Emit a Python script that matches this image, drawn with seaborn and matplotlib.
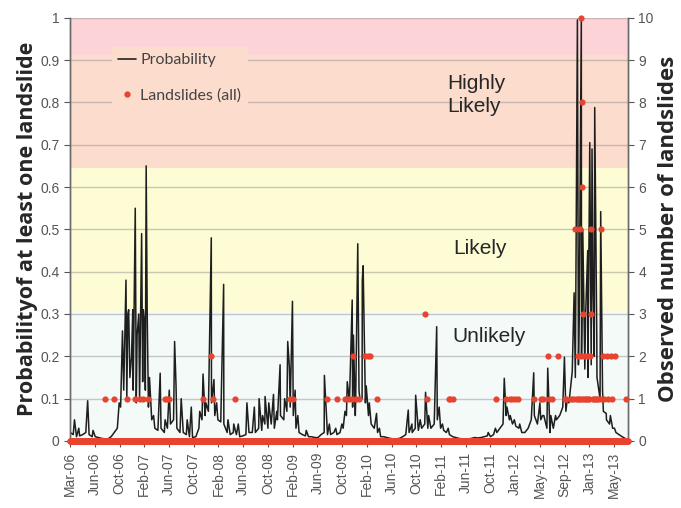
import matplotlib
matplotlib.use("Agg")
import matplotlib.pyplot as plt
import matplotlib.dates as mdates
from matplotlib.lines import Line2D
import numpy as np
import pandas as pd
import seaborn as sns

# ---- data ----
# background level of the daily probability, on the 1st and 16th of each month
base_2006 = [0.02, 0.015, 0.01, 0.012, 0.015, 0.02, 0.015, 0.01, 0.01, 0.008,
             0.006, 0.005, 0.005, 0.01, 0.02, 0.03, 0.08, 0.12, 0.10, 0.15]  # Mar-Dec
base_2007 = [0.12, 0.09, 0.10, 0.14, 0.12, 0.08, 0.05, 0.03, 0.025, 0.03, 0.02, 0.03,
             0.04, 0.05, 0.03, 0.02, 0.02, 0.015, 0.01, 0.008, 0.01, 0.03, 0.05, 0.06]
base_2008 = [0.07, 0.09, 0.06, 0.05, 0.045, 0.04, 0.02, 0.015, 0.02, 0.015, 0.01, 0.012,
             0.015, 0.02, 0.02, 0.02, 0.03, 0.025, 0.04, 0.03, 0.04, 0.03, 0.05, 0.06]
base_2009 = [0.05, 0.07, 0.08, 0.06, 0.03, 0.02, 0.015, 0.012, 0.01, 0.01, 0.008, 0.008,
             0.015, 0.02, 0.015, 0.015, 0.02, 0.015, 0.02, 0.03, 0.06, 0.10, 0.08, 0.10]
base_2010 = [0.12, 0.10, 0.09, 0.06, 0.04, 0.03, 0.02, 0.01, 0.01, 0.008, 0.006, 0.005,
             0.005, 0.006, 0.01, 0.015, 0.02, 0.02, 0.03, 0.025, 0.03, 0.04, 0.03, 0.03]
base_2011 = [0.04, 0.05, 0.03, 0.025, 0.02, 0.015, 0.01, 0.008, 0.006, 0.005, 0.005, 0.005,
             0.006, 0.008, 0.007, 0.008, 0.01, 0.012, 0.01, 0.015, 0.02, 0.03, 0.04, 0.06]
base_2012 = [0.05, 0.04, 0.035, 0.03, 0.02, 0.02, 0.03, 0.05, 0.06, 0.04, 0.05, 0.06,
             0.03, 0.02, 0.03, 0.05, 0.06, 0.08, 0.07, 0.09, 0.12, 0.15, 0.18, 0.20]
base_2013 = [0.17, 0.15, 0.18, 0.20, 0.15, 0.10, 0.07, 0.05, 0.04, 0.03, 0.02, 0.015,
             0.01, 0.006]  # Jan-Jul

# individual peaks of the probability
spike_dates = ["2006-03-22", "2006-04-12", "2006-05-25", "2006-06-20", "2006-10-25",
               "2006-11-10", "2006-11-27", "2006-12-06", "2006-12-10", "2006-12-24",
               "2006-12-30", "2007-01-11", "2007-01-20", "2007-01-28", "2007-02-11",
               "2007-02-19", "2007-02-25", "2007-03-05", "2007-03-10", "2007-03-21",
               "2007-04-10", "2007-05-12", "2007-06-05", "2007-06-25", "2007-07-21",
               "2007-07-28", "2007-08-22", "2007-09-20", "2007-10-10", "2007-11-20",
               "2007-12-06", "2007-12-20", "2008-01-15", "2008-01-28", "2008-02-10",
               "2008-03-15", "2008-04-05", "2008-05-03", "2008-05-25", "2008-07-06",
               "2008-08-11", "2008-09-03", "2008-09-20", "2008-10-02", "2008-10-20",
               "2008-11-12", "2008-11-28", "2008-12-14", "2009-01-05", "2009-01-20",
               "2009-01-28", "2009-02-12", "2009-02-25", "2009-03-10", "2009-04-20",
               "2009-07-17", "2009-08-10", "2009-09-10", "2009-10-10", "2009-10-25",
               "2009-11-05", "2009-11-12", "2009-11-29", "2009-12-05", "2009-12-14",
               "2009-12-26", "2010-01-05", "2010-01-17", "2010-01-21", "2010-02-05",
               "2010-02-20", "2010-03-27", "2010-04-10", "2010-08-28", "2010-09-15",
               "2010-10-03", "2010-10-25", "2010-11-20", "2010-12-05", "2011-01-13",
               "2011-01-25", "2011-02-10", "2011-03-10", "2011-09-20", "2011-10-25",
               "2011-12-07", "2011-12-20", "2012-01-05", "2012-01-25", "2012-02-20",
               "2012-04-28", "2012-05-28", "2012-06-10", "2012-07-05", "2012-07-20",
               "2012-08-12", "2012-09-24", "2012-10-08", "2012-11-01", "2012-11-10",
               "2012-11-26", "2012-12-05", "2012-12-15", "2012-12-22", "2013-01-05",
               "2013-01-15", "2013-01-25", "2013-02-05", "2013-02-10", "2013-02-18",
               "2013-02-28", "2013-03-19", "2013-03-28", "2013-04-15", "2013-05-05",
               "2013-05-25"]
spike_values = [0.05, 0.03, 0.095, 0.025, 0.09,
                0.26, 0.38, 0.30, 0.31, 0.20,
                0.31, 0.55, 0.25, 0.30, 0.49,
                0.31, 0.28, 0.65, 0.30, 0.15,
                0.06, 0.16, 0.05, 0.12, 0.235,
                0.13, 0.10, 0.05, 0.08, 0.07,
                0.158, 0.09, 0.48, 0.145, 0.09,
                0.37, 0.05, 0.04, 0.04, 0.09,
                0.08, 0.10, 0.06, 0.105, 0.09,
                0.11, 0.07, 0.18, 0.10, 0.235,
                0.175, 0.33, 0.12, 0.06, 0.025,
                0.155, 0.04, 0.03, 0.04, 0.07,
                0.14, 0.11, 0.333, 0.25, 0.06,
                0.466, 0.10, 0.38, 0.414, 0.13,
                0.09, 0.065, 0.03, 0.073, 0.04,
                0.108, 0.05, 0.115, 0.06, 0.27,
                0.08, 0.04, 0.03, 0.02, 0.03,
                0.148, 0.08, 0.06, 0.05, 0.04,
                0.161, 0.09, 0.06, 0.172, 0.06,
                0.06, 0.198, 0.10, 0.164, 0.35,
                0.995, 0.30, 1.0, 0.50, 0.30,
                0.45, 0.705, 0.69, 0.35, 0.788,
                0.25, 0.542, 0.12, 0.065, 0.06,
                0.03]

# days with observed landslides (all other days: 0)
slide_dates = ["2006-08-18", "2006-10-01", "2006-12-03", "2007-01-08", "2007-02-01",
               "2007-02-17", "2007-03-13", "2007-06-02", "2007-06-15", "2007-06-25",
               "2007-12-06", "2008-01-15", "2008-01-23", "2008-05-09", "2009-01-31",
               "2009-02-17", "2009-07-29", "2009-09-15", "2009-10-27", "2009-11-12",
               "2009-11-28", "2009-12-03", "2009-12-15", "2009-12-31", "2010-01-28",
               "2010-02-13", "2010-02-23", "2010-03-27", "2010-11-15", "2010-11-28",
               "2011-03-12", "2011-03-20", "2011-04-01", "2011-10-28", "2011-12-16",
               "2012-01-04", "2012-01-12", "2012-01-26", "2012-02-12", "2012-04-30",
               "2012-06-04", "2012-06-10", "2012-07-06", "2012-07-12", "2012-07-24",
               "2012-08-24", "2012-09-26", "2012-10-04", "2012-10-28", "2012-11-04",
               "2012-11-13", "2012-11-20", "2012-11-27", "2012-11-30", "2012-12-05",
               "2012-12-07", "2012-12-12", "2012-12-13", "2012-12-15", "2012-12-17",
               "2012-12-19", "2012-12-21", "2012-12-24", "2012-12-28", "2013-01-03",
               "2013-01-08", "2013-01-11", "2013-01-18", "2013-01-22", "2013-01-26",
               "2013-01-29", "2013-02-02", "2013-02-08", "2013-02-15", "2013-02-22",
               "2013-03-01", "2013-03-10", "2013-03-22", "2013-03-25", "2013-03-30",
               "2013-04-05", "2013-04-18", "2013-04-25", "2013-05-07", "2013-05-15",
               "2013-05-27", "2013-07-19"]
slide_counts = [1, 1, 1, 1, 1,
                1, 1, 1, 1, 1,
                1, 2, 1, 1, 1,
                1, 1, 1, 1, 1,
                1, 2, 1, 1, 2,
                2, 2, 1, 3, 1,
                1, 1, 1, 1, 1,
                1, 1, 1, 1, 1,
                1, 1, 2, 1, 1,
                2, 1, 1, 1, 1,
                5, 1, 2, 1, 1,
                5, 1, 2, 10, 8,
                6, 3, 1, 2, 1,
                1, 2, 1, 1, 2,
                3, 5, 1, 1, 1,
                1, 1, 5, 1, 2,
                1, 2, 1, 2, 1,
                2, 1]

zones = ["Unlikely", "Likely", "Highly\nLikely"]
zone_edges = [0, 0.308, 0.645, 0.912, 1.0]
zone_colors = ["#f3faf8", "#fdfcd5", "#fcdccc", "#fcd3d7"]

start, end = "2006-03-01", "2013-07-29"

# ---- build the series ----
def half_months(year, m0, m1):
    return [pd.Timestamp(year, m, d) for m in range(m0, m1 + 1) for d in (1, 16)]

base_dates = (half_months(2006, 3, 12) + half_months(2007, 1, 12) + half_months(2008, 1, 12)
              + half_months(2009, 1, 12) + half_months(2010, 1, 12) + half_months(2011, 1, 12)
              + half_months(2012, 1, 12) + half_months(2013, 1, 7))
base_vals = base_2006 + base_2007 + base_2008 + base_2009 + base_2010 + base_2011 + base_2012 + base_2013

prob = pd.concat([pd.DataFrame({"date": base_dates, "p": base_vals}),
                  pd.DataFrame({"date": pd.to_datetime(spike_dates), "p": spike_values})])
prob = prob.drop_duplicates("date", keep="last").sort_values("date")

days = pd.date_range(start, end, freq="D")
slides = pd.Series(0, index=days)
slides.loc[pd.to_datetime(slide_dates)] = slide_counts
slides = slides.reset_index()
slides.columns = ["date", "n"]

# ---- plot ----
sns.set_style("white")
plt.rcParams["font.family"] = ["Liberation Sans", "DejaVu Sans"]

fig = plt.figure(figsize=(6.81, 5.08), dpi=100)
ax = fig.add_axes([0.103, 0.132, 0.819, 0.833])

for lo, hi, c in zip(zone_edges[:-1], zone_edges[1:], zone_colors):
    ax.axhspan(lo, hi, color=c, zorder=0, lw=0)

sns.lineplot(data=prob, x="date", y="p", ax=ax, color="#1e1e1e", lw=1.1,
             estimator=None, sort=True, zorder=3)

ax.set_ylim(0, 1)
ax.set_xlim(pd.Timestamp(start), pd.Timestamp(end))
ax.set_yticks(np.arange(0, 1.01, 0.1))
ax.set_yticklabels(["0", "0.1", "0.2", "0.3", "0.4", "0.5", "0.6", "0.7", "0.8", "0.9", "1"])
ax.set_axisbelow("line")
ax.grid(axis="y", color="#8a8a8a", alpha=0.45, lw=1.0)
ax.grid(axis="x", visible=False)

ticks = [pd.Timestamp(start) + pd.Timedelta(days=120 * k) for k in range(23)]
ax.set_xticks(ticks)
ax.xaxis.set_major_formatter(mdates.DateFormatter("%b-%y"))
ax.tick_params(axis="x", rotation=90, labelsize=10, colors="#555555", length=4,
               direction="out", bottom=True, pad=4)
ax.tick_params(axis="y", labelsize=10, colors="#555555", length=4, left=True)
ax.set_xlabel("")
ax.set_ylabel("Probabilityof at least one landslide", fontsize=15.5,
              fontweight="bold", family="Open Sans", labelpad=2)

ax2 = ax.twinx()
sns.scatterplot(data=slides, x="date", y="n", ax=ax2, color="#e8432e",
                s=20, linewidth=0, zorder=4, clip_on=False)
ax2.set_ylim(0, 10)
ax2.set_yticks(range(0, 11))
ax2.tick_params(axis="y", labelsize=10, colors="#555555", length=4, right=True)
ax2.set_ylabel("Observed number of landslides", fontsize=16, fontweight="bold",
               family="Open Sans", labelpad=3)
ax2.set_xlabel("")

for a in (ax, ax2):
    a.spines["top"].set_visible(False)
    for s in ("left", "right", "bottom"):
        a.spines[s].set_color("#6a6a6a")
        a.spines[s].set_linewidth(1.0)

ax.text(0.686, 0.246, zones[0], transform=ax.transAxes, fontsize=15, va="center", ha="left")
ax.text(0.686, 0.454, zones[1], transform=ax.transAxes, fontsize=15, va="center", ha="left")
ax.text(0.677, 0.818, zones[2], transform=ax.transAxes, fontsize=15, va="center", ha="left",
        linespacing=1.3)

handles = [Line2D([], [], color="#222222", lw=1.2),
           Line2D([], [], color="#e8432e", marker="o", ls="", markersize=3.5)]
leg = ax2.legend(handles, ["Probability", "Landslides (all)"], loc="upper left",
                 bbox_to_anchor=(0.06, 0.95), frameon=True, facecolor=zone_colors[2],
                 edgecolor="none", framealpha=1, fancybox=False,
                 prop={"family": "Lato", "size": 11.5}, labelspacing=1.3,
                 handlelength=1.1, handletextpad=0.3, borderpad=0.4)
for t in leg.get_texts():
    t.set_color("#444444")

fig.savefig("out.png", dpi=100)
